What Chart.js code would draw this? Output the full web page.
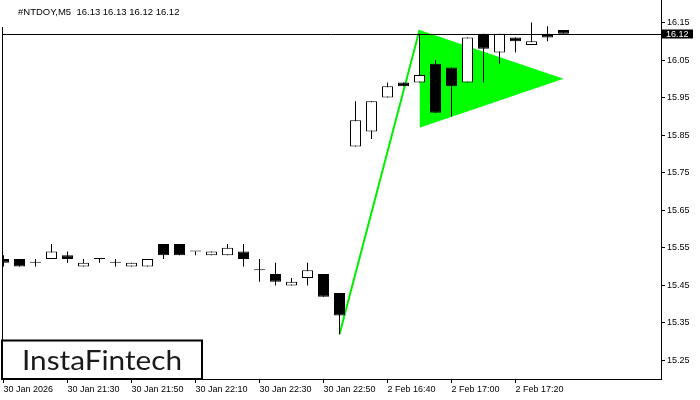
<!DOCTYPE html>
<html>
<head>
<meta charset="utf-8">
<script src="https://cdn.jsdelivr.net/npm/chart.js@4.4.1/dist/chart.umd.min.js"></script>
<style>
  html, body { margin: 0; padding: 0; background: #fff; }
</style>
</head>
<body>
<canvas id="myChart" width="700" height="400"></canvas>
<script>
// header text
var symbol = "#NTDOY,M5";
var lastOHLC = ["16.13", "16.13", "16.12", "16.12"];

// candles, one entry per M5 bar (index = bar number)
var opens  = [15.52, 15.52, 15.51, 15.52, 15.53, 15.50, 15.52, 15.51, 15.50, 15.50,
              15.56, 15.56, 15.54, 15.53, 15.53, 15.54, 15.49, 15.48, 15.45, 15.47,
              15.48, 15.43, 15.82, 15.86, 15.95, 15.99, 15.99, 16.04, 16.03, 15.99,
              16.12, 16.07, 16.11, 16.09, 16.12, 16.13];
var highs  = [15.53, 15.52, 15.52, 15.56, 15.54, 15.52, 15.52, 15.52, 15.51, 15.52,
              15.56, 15.56, 15.54, 15.54, 15.56, 15.56, 15.52, 15.51, 15.47, 15.51,
              15.48, 15.43, 15.94, 15.94, 15.99, 15.99, 16.12, 16.05, 16.03, 16.11,
              16.12, 16.12, 16.11, 16.15, 16.14, 16.13];
var lows   = [15.50, 15.50, 15.50, 15.52, 15.51, 15.50, 15.51, 15.50, 15.50, 15.50,
              15.52, 15.53, 15.53, 15.53, 15.53, 15.50, 15.46, 15.45, 15.45, 15.45,
              15.42, 15.32, 15.82, 15.84, 15.95, 15.98, 15.99, 15.91, 15.90, 15.99,
              15.99, 16.04, 16.07, 16.09, 16.10, 16.12];
var closes = [15.51, 15.50, 15.51, 15.54, 15.52, 15.51, 15.52, 15.51, 15.51, 15.52,
              15.53, 15.53, 15.54, 15.54, 15.55, 15.52, 15.49, 15.46, 15.46, 15.49,
              15.42, 15.37, 15.89, 15.94, 15.98, 15.98, 16.01, 15.91, 15.98, 16.11,
              16.08, 16.12, 16.10, 16.10, 16.11, 16.12];

// axis labels
var timeTickIdx = [0, 4, 8, 12, 16, 20, 24, 28, 32];
var timeTickText = ["30 Jan 2026", "30 Jan 21:30", "30 Jan 21:50", "30 Jan 22:10",
                    "30 Jan 22:30", "30 Jan 22:50", "2 Feb 16:40", "2 Feb 17:00", "2 Feb 17:20"];
var priceTicks = [16.15, 16.05, 15.95, 15.85, 15.75, 15.65, 15.55, 15.45, 15.35, 15.25];
var currentPrice = 16.12;

// bullish pennant: pole and triangle
var poleX = [21, 26];
var poleY = [15.32, 16.13];
var flagTopX = [26, 35];
var flagTopY = [16.13, 16.00];
var flagBotX = [26, 35];
var flagBotY = [15.87, 16.00];

var axisFont = { family: "Liberation Sans", size: 9 };

function pts(xs, ys) {
    return xs.map((x, i) => ({ x: x, y: ys[i] }));
}

var bodies = closes.map((c, i) => ({ x: i, y: [Math.min(opens[i], c), Math.max(opens[i], c)] }));
var wicks = highs.map((h, i) => ({ x: i, y: [lows[i], h] }));
var bodyColors = closes.map((c, i) => c > opens[i] ? "#ffffff" : "#000000");

// extra drawing: price line, labels, logo
var overlay = {
    id: "overlay",
    afterDatasetsDraw(chart) {
        const ctx = chart.ctx;
        const area = chart.chartArea;
        const y = Math.round(chart.scales.y.getPixelForValue(currentPrice)) + 0.5;
        ctx.save();
        ctx.strokeStyle = "#000";
        ctx.lineWidth = 1;
        ctx.beginPath();
        ctx.moveTo(area.left, y);
        ctx.lineTo(area.right, y);
        ctx.stroke();
        ctx.restore();
    },
    afterDraw(chart) {
        const ctx = chart.ctx;
        const area = chart.chartArea;
        ctx.save();

        // left frame line
        ctx.strokeStyle = "#000";
        ctx.lineWidth = 1;
        ctx.beginPath();
        ctx.moveTo(2.5, 27);
        ctx.lineTo(2.5, area.bottom);
        ctx.stroke();

        // title
        ctx.fillStyle = "#000";
        ctx.font = "9.5px 'Liberation Sans'";
        ctx.textBaseline = "alphabetic";
        ctx.textAlign = "left";
        ctx.fillText(symbol + "  " + lastOHLC.join(" "), 18, 14.5);

        // current price label
        const y = Math.round(chart.scales.y.getPixelForValue(currentPrice)) + 0.5;
        ctx.fillStyle = "#000";
        ctx.fillRect(662, y - 5, 31, 9);
        ctx.fillStyle = "#fff";
        ctx.font = "9px 'Liberation Sans'";
        ctx.textBaseline = "middle";
        ctx.fillText(currentPrice.toFixed(2), 666, y);

        // logo
        ctx.fillStyle = "#fff";
        ctx.fillRect(2, 340, 200, area.bottom - 340);
        ctx.strokeStyle = "#000";
        ctx.lineWidth = 2;
        ctx.strokeRect(2, 340.5, 200, area.bottom - 340.5);
        ctx.fillStyle = "#1a1a1a";
        ctx.font = "26px Lato";
        ctx.textBaseline = "alphabetic";
        const w = ctx.measureText("InstaFintech").width;
        ctx.translate(22, 370);
        ctx.scale(160 / w, 1);
        ctx.fillText("InstaFintech", 0, 0);
        ctx.restore();
    }
};

var ctx = document.getElementById("myChart").getContext("2d");
var myChart = new Chart(ctx, {
    type: "bar",
    data: {
        datasets: [
            {
                label: "body",
                data: bodies,
                backgroundColor: bodyColors,
                borderColor: "#000",
                borderWidth: 1,
                borderSkipped: false,
                barThickness: 11,
                minBarLength: 1,
                inflateAmount: 0,
                grouped: false,
                order: 0
            },
            {
                label: "wick",
                data: wicks,
                backgroundColor: "#000",
                borderWidth: 0,
                barThickness: 1,
                inflateAmount: 0,
                grouped: false,
                order: 1
            },
            {
                type: "line",
                label: "flag top",
                data: pts(flagTopX, flagTopY),
                borderColor: "rgba(0,0,0,0)",
                borderWidth: 0,
                pointRadius: 0,
                backgroundColor: "#00ff00",
                fill: "+1",
                order: 5
            },
            {
                type: "line",
                label: "flag bottom",
                data: pts(flagBotX, flagBotY),
                borderColor: "rgba(0,0,0,0)",
                borderWidth: 0,
                pointRadius: 0,
                fill: false,
                order: 6
            },
            {
                type: "line",
                label: "pole",
                data: pts(poleX, poleY),
                borderColor: "#00ee00",
                borderWidth: 2,
                pointRadius: 0,
                fill: false,
                order: 4
            }
        ]
    },
    options: {
        responsive: false,
        animation: false,
        layout: { padding: { left: 2, top: 0, right: 0, bottom: 0 } },
        plugins: {
            legend: { display: false },
            tooltip: { enabled: false },
            title: { display: false }
        },
        scales: {
            x: {
                type: "linear",
                position: "bottom",
                offset: false,
                min: (2 - 3.5) / 16,
                max: (661 - 3.5) / 16,
                afterBuildTicks: s => { s.ticks = timeTickIdx.map(v => ({ value: v })); },
                afterFit: s => {
                    s.height = 21;
                    s.paddingLeft = 0;
                    s.paddingRight = 0;
                },
                ticks: {
                    callback: (v, i) => timeTickText[i],
                    align: "start",
                    autoSkip: false,
                    maxRotation: 0,
                    padding: 1,
                    color: "#000",
                    font: axisFont
                },
                grid: { drawOnChartArea: false, offset: false, tickLength: 4, color: "#000" },
                border: { color: "#000", width: 1 }
            },
            y: {
                position: "right",
                min: 15.25 - (379 - 360.5) / 375.6,
                max: 16.15 + 22.5 / 375.6,
                afterBuildTicks: s => { s.ticks = priceTicks.map(v => ({ value: v })); },
                afterFit: s => {
                    s.width = 39;
                    s.paddingTop = 0;
                    s.paddingBottom = 0;
                },
                ticks: {
                    callback: v => v.toFixed(2),
                    padding: 2,
                    color: "#000",
                    font: axisFont
                },
                grid: { drawOnChartArea: false, tickLength: 4, color: "#000" },
                border: { color: "#000", width: 1 }
            }
        }
    },
    plugins: [overlay]
});
</script>
</body>
</html>
